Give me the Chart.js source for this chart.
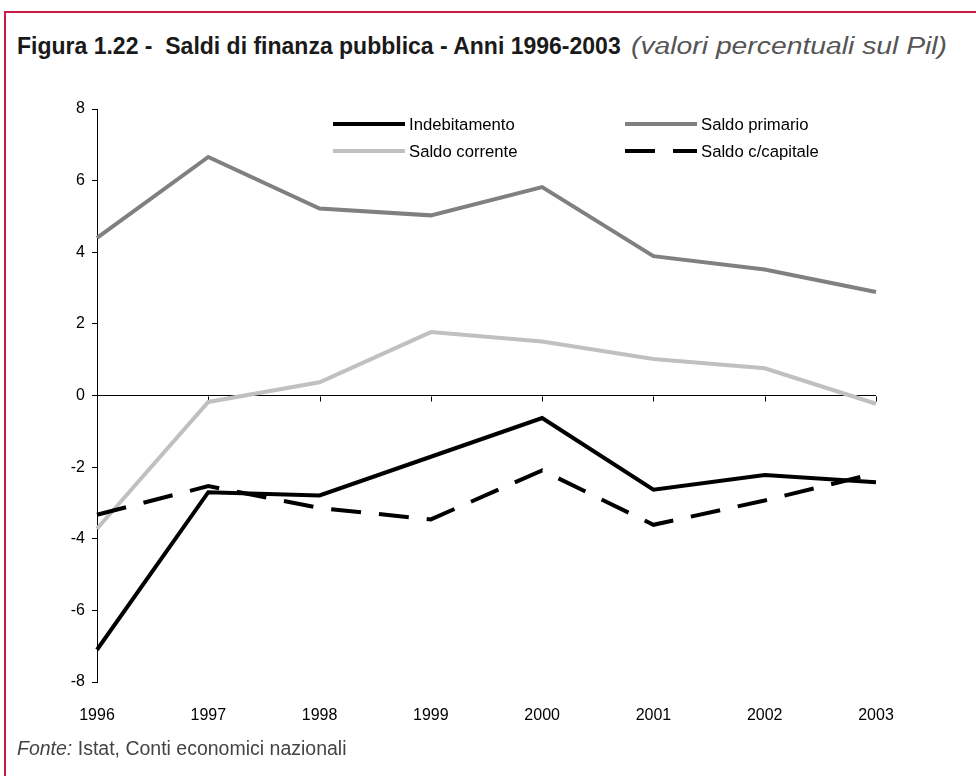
<!DOCTYPE html>
<html>
<head>
<meta charset="utf-8">
<script src="https://cdn.jsdelivr.net/npm/chart.js@4"></script>
<style>
  html, body { margin: 0; padding: 0; background: #fff; width: 976px; height: 776px; overflow: hidden;
    font-family: "Liberation Sans", Arial, sans-serif; }
  #frame { position: absolute; left: 4px; top: 11px; width: 1100px; height: 1100px;
    border: 2px solid #cc1a44; box-sizing: border-box; }
  #title { position: absolute; left: 17px; top: 33px; font-size: 23px; white-space: nowrap; color: #1a1a1a; }
  #title b { font-weight: bold; }
  #title i { display: inline-block; color: #555; font-weight: normal; margin-left: 10px;
    transform: scaleX(1.23); transform-origin: left center; }
  #source { position: absolute; left: 17px; top: 737px; font-size: 19.5px; color: #444; white-space: nowrap; }
  #chart { position: absolute; left: 0; top: 0; }
</style>
</head>
<body>
<div id="frame"></div>
<div id="title"><b>Figura 1.22 - &nbsp;Saldi di finanza pubblica - Anni 1996-2003</b><i>(valori percentuali sul Pil)</i></div>
<canvas id="chart" width="976" height="776"></canvas>
<div id="source"><i>Fonte:</i> Istat, Conti economici nazionali</div>
<script>
// Years on the category axis
const years = ['1996', '1997', '1998', '1999', '2000', '2001', '2002', '2003'];

// Public finance balances, % of GDP
const indebitamento = [-7.10, -2.70, -2.79, -1.71, -0.63, -2.63, -2.22, -2.42];
const saldoPrimario = [4.40, 6.66, 5.22, 5.03, 5.82, 3.89, 3.52, 2.89];
const saldoCorrente = [-3.72, -0.18, 0.37, 1.77, 1.51, 1.02, 0.76, -0.23];
const saldoCapitale = [-3.33, -2.53, -3.14, -3.46, -2.09, -3.61, -2.93, -2.17];

// Y axis range and step
const yMin = -8, yMax = 8, yStep = 2;

const FONT = '"Liberation Sans", Arial, sans-serif';

// Tick marks hanging below the zero line at every year
const zeroAxisTicks = {
  id: 'zeroAxisTicks',
  beforeDatasetsDraw(chart) {
    const { ctx, scales: { x, y } } = chart;
    const y0 = Math.round(y.getPixelForValue(0)) + 0.5;
    ctx.save();
    ctx.strokeStyle = '#000';
    ctx.lineWidth = 1;
    ctx.beginPath();
    x.ticks.forEach((t, i) => {
      const px = Math.round(x.getPixelForTick(i)) + 0.5;
      ctx.moveTo(px, y0);
      ctx.lineTo(px, y0 + 5);
    });
    ctx.stroke();
    ctx.restore();
  }
};

// Two-column legend inside the plot area
const gridLegend = {
  id: 'gridLegend',
  afterDatasetsDraw(chart, args, opts) {
    const { ctx } = chart;
    ctx.save();
    ctx.font = opts.fontSize + 'px ' + FONT;
    ctx.textBaseline = 'middle';
    ctx.textAlign = 'left';
    chart.data.datasets.forEach((ds, i) => {
      const col = i % 2, row = Math.floor(i / 2);
      const x = opts.cols[col], y = opts.rows[row];
      ctx.strokeStyle = ds.borderColor;
      ctx.lineWidth = ds.borderWidth;
      ctx.setLineDash(ds.borderDash || []);
      ctx.beginPath();
      ctx.moveTo(x, y);
      ctx.lineTo(x + opts.lineLen, y);
      ctx.stroke();
      ctx.setLineDash([]);
      ctx.fillStyle = '#000';
      ctx.fillText(ds.label, x + opts.lineLen + 4, y + 1);
    });
    ctx.restore();
  }
};

const mk = (label, data, color, order, dash) => ({
  label, data, borderColor: color, backgroundColor: color, borderWidth: 4,
  borderDash: dash || [], pointRadius: 0, tension: 0, fill: false, order,
  borderJoinStyle: 'miter', borderCapStyle: 'butt'
});

new Chart(document.getElementById('chart'), {
  type: 'line',
  data: {
    labels: years,
    datasets: [
      mk('Indebitamento', indebitamento, '#000000', 3),
      mk('Saldo primario', saldoPrimario, '#808080', 2),
      mk('Saldo corrente', saldoCorrente, '#c0c0c0', 1),
      mk('Saldo c/capitale', saldoCapitale, '#000000', 0, [30, 18])
    ]
  },
  options: {
    responsive: false,
    devicePixelRatio: 1,
    animation: false,
    layout: { padding: { left: 37, right: 100, top: 109, bottom: 54 } },
    plugins: {
      legend: { display: false },
      tooltip: { enabled: false },
      gridLegend: { cols: [333, 625], rows: [124, 151], lineLen: 72, fontSize: 16.7 }
    },
    scales: {
      x: {
        type: 'category',
        offset: false,
        grid: { display: false },
        border: { display: false },
        ticks: { color: '#000', font: { family: FONT, size: 16 }, padding: 16, maxRotation: 0, autoSkip: false },
        afterFit(s) { s.height = 40; }
      },
      y: {
        min: yMin, max: yMax,
        ticks: { stepSize: yStep, color: '#000', font: { family: FONT, size: 16 }, padding: 7 },
        grid: {
          color: c => (c.tick && c.tick.value === 0 ? '#000' : 'rgba(0,0,0,0)'),
          lineWidth: 1, tickColor: '#000', tickLength: 5, drawTicks: true
        },
        border: { display: true, color: '#000', width: 1 },
        afterFit(s) { s.width = 60; }
      }
    }
  },
  plugins: [zeroAxisTicks, gridLegend]
});
</script>
</body>
</html>
